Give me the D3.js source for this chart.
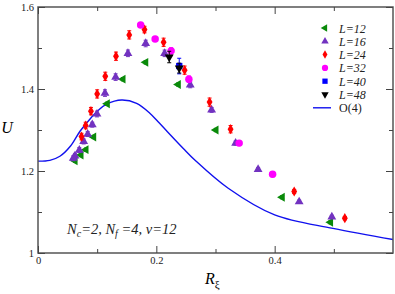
<!DOCTYPE html>
<html>
<head>
<meta charset="utf-8">
<script src="https://cdn.jsdelivr.net/npm/d3@7"></script>
<style>
  body { margin: 0; background: #fff; }
  svg text { font-family: "Liberation Serif", "Times New Roman", Times, "DejaVu Serif", serif; }
</style>
</head>
<body>
<div id="chart"></div>
<script>
// Data
const l12X = [0.0625, 0.0726, 0.081, 0.094, 0.117, 0.1436, 0.182, 0.237, 0.3007, 0.4127, 0.4944];
const l12Y = [1.225, 1.239, 1.252, 1.283, 1.364, 1.424, 1.465, 1.411, 1.300, 1.136, 1.075];
const l12E = [0.004, 0.004, 0.004, 0.004, 0.004, 0.004, 0.004, 0.004, 0.004, 0.004, 0.004];

const l16X = [0.0596, 0.0625, 0.0698, 0.0772, 0.084, 0.0917, 0.0997, 0.1132, 0.1312, 0.152, 0.182, 0.214, 0.2573, 0.2934, 0.334, 0.372, 0.4414, 0.4966];
const l16Y = [1.231, 1.237, 1.251, 1.272, 1.290, 1.313, 1.339, 1.390, 1.429, 1.487, 1.511, 1.487, 1.410, 1.349, 1.268, 1.204, 1.125, 1.088];
const l16E = [0.006, 0.006, 0.006, 0.006, 0.006, 0.006, 0.007, 0.008, 0.008, 0.008, 0.008, 0.008, 0.007, 0.006, 0.005, 0.004, 0.004, 0.004];

const l24X = [0.0735, 0.0806, 0.0895, 0.100, 0.1137, 0.1318, 0.1542, 0.180, 0.2123, 0.2478, 0.290, 0.3255, 0.433, 0.5186];
const l24Y = [1.284, 1.311, 1.346, 1.388, 1.431, 1.480, 1.532, 1.545, 1.514, 1.446, 1.368, 1.302, 1.150, 1.085];
const l24E = [0.008, 0.008, 0.009, 0.010, 0.010, 0.010, 0.010, 0.008, 0.010, 0.010, 0.010, 0.009, 0.005, 0.004];

const l32X = [0.1735, 0.198, 0.225, 0.255, 0.340, 0.3965];
const l32Y = [1.556, 1.522, 1.493, 1.424, 1.268, 1.192];
const l32E = [0.006, 0.006, 0.008, 0.008, 0.006, 0.006];

const l40X = [0.2387];
const l40Y = [1.456];
const l40E = [0.019];

const l48X = [0.2218, 0.2387];
const l48Y = [1.478, 1.451];
const l48E = [0.014, 0.012];

// O(4) curve
const o4X = [0, 0.02, 0.037, 0.055, 0.071, 0.088, 0.102, 0.116, 0.1414, 0.1667, 0.189, 0.203, 0.2456, 0.265, 0.3215, 0.40, 0.4985, 0.6];
const o4Y = [1.224, 1.226, 1.236, 1.261, 1.297, 1.327, 1.348, 1.363, 1.373, 1.365, 1.341, 1.320, 1.255, 1.227, 1.158, 1.093, 1.060, 1.033];

const xTicks = [0, 0.2, 0.4];
const xMinor = [0.1, 0.3, 0.5];
const yTicks = [1, 1.2, 1.4, 1.6];
const yMinor = [1.1, 1.3, 1.5];

const W = 395, H = 294;
const margin = {left: 38, top: 7, right: 2, bottom: 41};
const iw = W - margin.left - margin.right;
const ih = H - margin.top - margin.bottom;

const svg = d3.select('#chart').append('svg')
    .attr('width', W)
    .attr('height', H);

const x = d3.scaleLinear().domain([0, 0.6]).range([0, iw]);
const y = d3.scaleLinear().domain([1, 1.6]).range([ih, 0]);

const g = svg.append('g').attr('transform', `translate(${margin.left},${margin.top})`);

// O(4) line
const line = d3.line()
    .x((d, i) => x(o4X[i]))
    .y((d, i) => y(o4Y[i]))
    .curve(d3.curveCatmullRom.alpha(0.5));
g.append('path')
    .datum(o4X)
    .attr('d', line)
    .attr('fill', 'none')
    .attr('stroke', '#1010ee')
    .attr('stroke-width', 1.4);

const series = [
    {name: 'L=12', xs: l12X, ys: l12Y, es: l12E, color: '#0a8a0a', sym: d3.symbolTriangle, rot: -90, size: 34},
    {name: 'L=16', xs: l16X, ys: l16Y, es: l16E, color: '#7232c0', sym: d3.symbolTriangle, rot: 0, size: 34},
    {name: 'L=24', xs: l24X, ys: l24Y, es: l24E, color: '#ff0000', sym: d3.symbolDiamond, rot: 0, size: 30},
    {name: 'L=32', xs: l32X, ys: l32Y, es: l32E, color: '#ff00ff', sym: d3.symbolCircle, rot: 0, size: 44},
    {name: 'L=40', xs: l40X, ys: l40Y, es: l40E, color: '#0000ff', sym: d3.symbolSquare, rot: 0, size: 40},
    {name: 'L=48', xs: l48X, ys: l48Y, es: l48E, color: '#000000', sym: d3.symbolTriangle, rot: 180, size: 34}
];

series.forEach(s => {
    const pts = s.xs.map((v, i) => ({x: v, y: s.ys[i], e: s.es[i]}));
    const grp = g.append('g');
    // error bars
    grp.selectAll('path.err')
        .data(pts)
        .enter()
        .append('path')
        .attr('class', 'err')
        .attr('d', d => {
            const cx = x(d.x), y0 = y(d.y - d.e), y1 = y(d.y + d.e);
            return `M${cx},${y0}V${y1}M${cx - 2},${y0}H${cx + 2}M${cx - 2},${y1}H${cx + 2}`;
        })
        .attr('stroke', s.color)
        .attr('stroke-width', 1)
        .attr('fill', 'none');
    grp.selectAll('path.pt')
        .data(pts)
        .enter()
        .append('path')
        .attr('class', 'pt')
        .attr('d', d3.symbol().type(s.sym).size(s.size))
        .attr('transform', d => `translate(${x(d.x)},${y(d.y)}) rotate(${s.rot})`)
        .attr('fill', s.color);
});

// frame
g.append('rect')
    .attr('width', iw)
    .attr('height', ih)
    .attr('fill', 'none')
    .attr('stroke', '#555')
    .attr('stroke-width', 1.5);

// axes with inward ticks
const xAxis = d3.axisBottom(x).tickValues(xTicks).tickSize(-7).tickPadding(4)
    .tickFormat(d => d === 0 ? '0' : d3.format('.1f')(d));
const xAxisM = d3.axisBottom(x).tickValues(xMinor).tickSize(-4).tickFormat('');
const xTop = d3.axisTop(x).tickValues(xTicks).tickSize(-7).tickFormat('');
const xTopM = d3.axisTop(x).tickValues(xMinor).tickSize(-4).tickFormat('');
const yAxis = d3.axisLeft(y).tickValues(yTicks).tickSize(-7).tickPadding(4)
    .tickFormat(d => d === 1 ? '1' : d3.format('.1f')(d));
const yAxisM = d3.axisLeft(y).tickValues(yMinor).tickSize(-4).tickFormat('');
const yRight = d3.axisRight(y).tickValues(yTicks).tickSize(-7).tickFormat('');
const yRightM = d3.axisRight(y).tickValues(yMinor).tickSize(-4).tickFormat('');

function styleAxis(sel) {
    sel.select('.domain').remove();
    sel.attr('font-family', null);
    sel.selectAll('line').attr('stroke', '#444').attr('stroke-width', 1);
    sel.selectAll('text')
        .attr('font-size', 10.5)
        .attr('fill', '#222');
}
g.append('g').attr('transform', `translate(0,${ih})`).call(xAxis).call(styleAxis);
g.append('g').attr('transform', `translate(0,${ih})`).call(xAxisM).call(styleAxis);
g.append('g').call(xTop).call(styleAxis);
g.append('g').call(xTopM).call(styleAxis);
g.append('g').call(yAxis).call(styleAxis);
g.append('g').call(yAxisM).call(styleAxis);
g.append('g').attr('transform', `translate(${iw},0)`).call(yRight).call(styleAxis);
g.append('g').attr('transform', `translate(${iw},0)`).call(yRightM).call(styleAxis);

// axis titles
svg.append('text')
    .attr('x', 7)
    .attr('y', 133)
    .attr('text-anchor', 'middle')
    .attr('font-size', 16)
    .attr('font-style', 'italic')
    .text('U');

const rx = svg.append('text')
    .attr('x', 205)
    .attr('y', 284)
    .attr('font-size', 16)
    .attr('font-style', 'italic');
rx.append('tspan').text('R');
rx.append('tspan').attr('font-size', 11).attr('font-style', 'normal').attr('dy', 4).text('ξ');

// annotation
const ann = svg.append('text')
    .attr('x', 67)
    .attr('y', 234)
    .attr('font-size', 14.5)
    .attr('font-style', 'italic')
    .attr('fill', '#222');
ann.append('tspan').text('N');
ann.append('tspan').attr('font-size', 10).attr('dy', 3).text('c');
ann.append('tspan').attr('dy', -3).text('=2, N');
ann.append('tspan').attr('font-size', 10).attr('dy', 3).text('f');
ann.append('tspan').attr('dy', -3).text(' =4, ν=12');

// legend
const legend = svg.append('g').attr('transform', 'translate(325,28)');
series.forEach((s, i) => {
    const row = legend.append('g').attr('transform', `translate(0,${i * 13.3})`);
    row.append('path')
        .attr('d', d3.symbol().type(s.sym).size(s.size * 0.7))
        .attr('transform', `rotate(${s.rot})`)
        .attr('fill', s.color);
    row.append('text')
        .attr('x', 14)
        .attr('y', 4.5)
        .attr('font-size', 12)
        .attr('font-style', 'italic')
        .attr('fill', '#222')
        .text(s.name);
});
const o4row = legend.append('g').attr('transform', `translate(0,${6 * 13.3})`);
o4row.append('line')
    .attr('x1', -12).attr('x2', 6)
    .attr('stroke', '#1010ee')
    .attr('stroke-width', 1.4);
o4row.append('text')
    .attr('x', 14)
    .attr('y', 4.5)
    .attr('font-size', 12)
    .attr('fill', '#222')
    .text('O(4)');
</script>
</body>
</html>
